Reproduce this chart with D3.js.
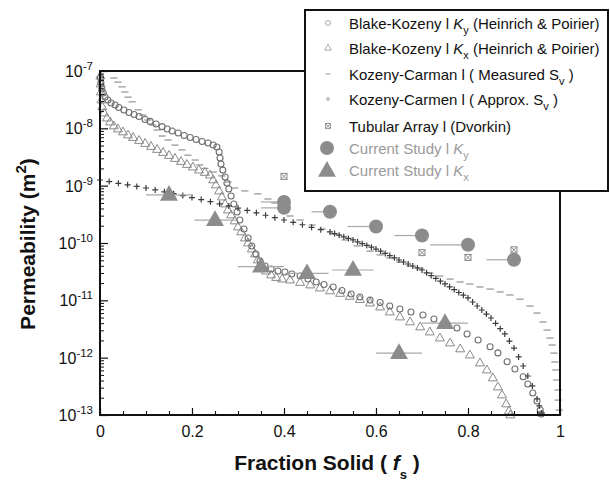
<!DOCTYPE html>
<html>
<head>
<meta charset="utf-8">
<script src="https://cdn.jsdelivr.net/npm/d3@7"></script>
<style>
  body { margin: 0; background: #fff; }
  svg { display: block; }
  text { font-family: "Liberation Sans", Arial, Helvetica, sans-serif; }
</style>
</head>
<body>
<svg id="chart" width="610" height="485"></svg>
<script>
// ---- Blake-Kozeny, K_y (Heinrich & Poirier) ----
const bkyFs = [0.001,0.002,0.004,0.007,0.011,0.017,0.024,0.033,0.041,0.052,0.063,0.074,0.085,0.098,0.109,0.122,0.135,0.146,0.157,0.170,0.183,0.196,0.209,0.222,0.235,0.246,0.254,0.259,0.261,0.263,0.267,0.272,0.276,0.280,0.285,0.291,0.298,0.304,0.313,0.322,0.330,0.339,0.348,0.359,0.372,0.387,0.402,0.417,0.435,0.452,0.470,0.487,0.507,0.526,0.546,0.565,0.587,0.609,0.630,0.652,0.676,0.702,0.726,0.750,0.776,0.798,0.822,0.848,0.865,0.885,0.902,0.920,0.930,0.941,0.950,0.957,0.959];
const bkyK = [7.55e-8,6.18e-8,4.85e-8,4.13e-8,3.52e-8,3.12e-8,2.77e-8,2.55e-8,2.31e-8,2.09e-8,1.89e-8,1.74e-8,1.61e-8,1.43e-8,1.32e-8,1.19e-8,1.07e-8,9.73e-9,8.98e-9,8.29e-9,7.50e-9,6.92e-9,6.38e-9,5.89e-9,5.55e-9,5.12e-9,4.72e-9,3.86e-9,3.03e-9,2.39e-9,1.87e-9,1.42e-9,1.11e-9,8.75e-10,6.6e-10,4.79e-10,3.47e-10,2.52e-10,1.75e-10,1.22e-10,8.87e-11,6.43e-11,4.85e-11,3.97e-11,3.52e-11,3.24e-11,3.12e-11,2.88e-11,2.65e-11,2.35e-11,2.09e-11,1.89e-11,1.71e-11,1.48e-11,1.29e-11,1.14e-11,1.01e-11,9.16e-12,7.96e-12,7.06e-12,6.25e-12,5.55e-12,4.72e-12,4.02e-12,3.29e-12,2.59e-12,2.03e-12,1.55e-12,1.21e-12,8.49e-13,6.34e-13,4.66e-13,3.47e-13,2.42e-13,1.75e-13,1.22e-13,1.04e-13];

// ---- Blake-Kozeny, K_x (Heinrich & Poirier) ----
const bkxFs = [0.0007,0.0013,0.002,0.003,0.005,0.009,0.015,0.022,0.030,0.039,0.050,0.061,0.072,0.085,0.098,0.111,0.124,0.137,0.150,0.163,0.176,0.189,0.202,0.215,0.228,0.239,0.246,0.252,0.259,0.265,0.272,0.278,0.285,0.293,0.300,0.307,0.315,0.322,0.330,0.337,0.343,0.352,0.361,0.372,0.383,0.396,0.413,0.435,0.457,0.478,0.500,0.522,0.543,0.565,0.587,0.609,0.630,0.652,0.674,0.696,0.717,0.739,0.761,0.783,0.804,0.826,0.841,0.854,0.865,0.874,0.883,0.889,0.892];
const bkxK = [8.18e-8,5.93e-8,4.30e-8,3.12e-8,2.36e-8,1.85e-8,1.51e-8,1.29e-8,1.10e-8,9.73e-9,8.63e-9,7.65e-9,6.92e-9,6.14e-9,5.44e-9,4.82e-9,4.28e-9,3.79e-9,3.36e-9,2.98e-9,2.64e-9,2.34e-9,2.11e-9,1.87e-9,1.70e-9,1.53e-9,1.26e-9,1.03e-9,8.07e-10,6.34e-10,4.79e-10,3.76e-10,3.08e-10,2.42e-10,1.90e-10,1.56e-10,1.22e-10,1.00e-10,7.85e-11,6.43e-11,5.05e-11,3.97e-11,3.24e-11,2.77e-11,2.50e-11,2.35e-11,2.26e-11,2.05e-11,1.85e-11,1.64e-11,1.46e-11,1.32e-11,1.17e-11,1.03e-11,8.97e-12,7.64e-12,6.25e-12,5.12e-12,4.19e-12,3.43e-12,2.80e-12,2.20e-12,1.80e-12,1.42e-12,1.11e-12,8.07e-13,6.09e-13,4.42e-13,3.08e-13,2.23e-13,1.56e-13,1.17e-13,1.0e-13];

// ---- Kozeny-Carman with measured S_v ----
const kcMeasFs = [0.030,0.039,0.048,0.054,0.061,0.070,0.083,0.093,0.104,0.115,0.124,0.135,0.148,0.163,0.178,0.191,0.207,0.217,0.228,0.246,0.265,0.278,0.293,0.315,0.343,0.365,0.380,0.398,0.413,0.435,0.461,0.483,0.507,0.533,0.559,0.587,0.609,0.630,0.652,0.674,0.696,0.717,0.739,0.761,0.783,0.804,0.826,0.848,0.870,0.891,0.913,0.935,0.950,0.963,0.972,0.978,0.983,0.987,0.989,0.991,0.993,0.996,0.996,0.998];
const kcMeasK = [7.55e-8,6.4e-8,5.3e-8,4.3e-8,3.5e-8,2.9e-8,2.1e-8,1.7e-8,1.4e-8,1.14e-8,9.35e-9,7.35e-9,6.25e-9,5.1e-9,4.2e-9,3.4e-9,2.8e-9,2.3e-9,2.0e-9,1.73e-9,1.48e-9,1.16e-9,9.1e-10,8.1e-10,7.2e-10,5.85e-10,5.0e-10,3.76e-10,2.96e-10,2.52e-10,2.06e-10,1.75e-10,1.44e-10,1.13e-10,8.9e-11,7.2e-11,6.2e-11,5.5e-11,4.66e-11,3.97e-11,3.52e-11,3.0e-11,2.65e-11,2.35e-11,2.09e-11,1.93e-11,1.71e-11,1.57e-11,1.40e-11,1.24e-11,1.05e-11,7.96e-12,6.0e-12,4.19e-12,3.03e-12,2.2e-12,1.66e-12,1.2e-12,8.4e-13,6.1e-13,4.07e-13,2.73e-13,1.82e-13,1.22e-13];

// ---- Kozeny-Carmen with approximated S_v ----
const kcApproxFs = [0,0.02,0.04,0.06,0.08,0.10,0.12,0.14,0.16,0.18,0.20,0.22,0.24,0.26,0.28,0.30,0.32,0.34,0.36,0.38,0.40,0.42,0.44,0.46,0.48,0.50,
  0.51,0.52,0.53,0.54,0.55,0.56,0.57,0.58,0.59,0.60,0.61,0.62,0.63,0.64,0.65,0.66,0.67,0.68,0.69,0.70,0.71,0.72,0.73,0.74,0.75,0.76,0.77,0.78,0.79,0.80,
  0.81,0.82,0.83,0.84,0.85,0.86,0.87,0.88,0.89,0.90,0.91,0.92,0.93,0.94,0.95,0.955,0.96];
const kcApproxK = [1.256e-9,1.18e-9,1.10e-9,1.035e-9,9.7e-10,9.1e-10,8.43e-10,7.82e-10,7.24e-10,6.71e-10,6.21e-10,5.71e-10,5.25e-10,4.83e-10,4.44e-10,4.07e-10,3.70e-10,3.36e-10,3.05e-10,2.77e-10,2.52e-10,2.29e-10,2.08e-10,1.88e-10,1.71e-10,1.56e-10,
  1.46e-10,1.37e-10,1.28e-10,1.20e-10,1.13e-10,1.05e-10,9.75e-11,9.08e-11,8.45e-11,7.85e-11,7.19e-11,6.58e-11,6.03e-11,5.52e-11,5.05e-11,4.66e-11,4.30e-11,3.97e-11,3.67e-11,3.38e-11,3.02e-11,2.70e-11,2.41e-11,2.16e-11,1.93e-11,1.72e-11,1.54e-11,1.37e-11,1.23e-11,1.10e-11,
  9.35e-12,7.96e-12,6.78e-12,5.77e-12,4.92e-12,3.97e-12,3.20e-12,2.59e-12,1.95e-12,1.47e-12,1.03e-12,7.15e-13,4.79e-13,3.21e-13,1.90e-13,1.44e-13,1.08e-13];

// ---- Tubular array (Dvorkin) ----
const tubeFs = [0.4, 0.7, 0.8, 0.9];
const tubeK = [1.45e-9, 6.8e-11, 5.6e-11, 7.6e-11];

// ---- Current study: K_y (error bar extends to lower f_s only) ----
const studyKyFs = [0.4, 0.4, 0.5, 0.6, 0.7, 0.8, 0.9];
const studyKyK = [5.2e-10, 4.1e-10, 3.5e-10, 1.94e-10, 1.35e-10, 9.3e-11, 5.1e-11];
const studyKyErr = [0.05, 0.05, 0.04, 0.062, 0.06, 0.082, 0.06];

// ---- Current study: K_x (symmetric error bars) ----
const studyKxFs = [0.15, 0.25, 0.35, 0.45, 0.55, 0.65, 0.75];
const studyKxK = [6.9e-10, 2.5e-10, 3.86e-11, 2.96e-11, 3.38e-11, 1.2e-12, 4.0e-12];
const studyKxErr = [0.05, 0.045, 0.05, 0.047, 0.045, 0.05, 0.05];

// ---- Axis ticks ----
const xTicks = [0, 0.2, 0.4, 0.6, 0.8, 1];
const xTickLabels = ["0", "0.2", "0.4", "0.6", "0.8", "1"];
const yTicks = [1e-13, 1e-12, 1e-11, 1e-10, 1e-9, 1e-8, 1e-7];
const yTickExponents = ["-13", "-12", "-11", "-10", "-9", "-8", "-7"];

// ---- Legend entries ----
const legendLabels = [
  ["Blake-Kozeny l ", ["K", "y"], " (Heinrich & Poirier)"],
  ["Blake-Kozeny l ", ["K", "x"], " (Heinrich & Poirier)"],
  ["Kozeny-Carman l ( Measured S", ["", "v"], " )"],
  ["Kozeny-Carmen l ( Approx. S", ["", "v"], " )"],
  ["Tubular Array l (Dvorkin)", null, ""],
  ["Current Study l ", ["K", "y"], ""],
  ["Current Study l ", ["K", "x"], ""]
];

// ================= drawing =================
const svg = d3.select("#chart");
const X0 = 100, X1 = 560, Y0 = 415, Y1 = 71;
const x = d3.scaleLinear().domain([0, 1]).range([X0, X1]);
const y = d3.scaleLog().domain([1e-13, 1e-7]).range([Y0, Y1]);

const zip = (a, b) => d3.range(Math.min(a.length, b.length)).map(i => [a[i], b[i]]);

// marker shapes
const plusPath = "M-3,0H3M0,-3V3";
const dashPath = "M-3.6,0H3.6";
const triPath = s => `M0,${-s * 0.62}L${s * 0.56},${s * 0.36}L${-s * 0.56},${s * 0.36}Z`;

const plot = svg.append("g");

// Kozeny-Carman, measured S_v : short dashes
plot.append("g").selectAll("path").data(zip(kcMeasFs, kcMeasK)).join("path")
  .attr("transform", d => `translate(${x(d[0])},${y(d[1])})`)
  .attr("d", dashPath).attr("stroke", "#9a9a9a").attr("stroke-width", 1.3).attr("fill", "none");

// Blake-Kozeny K_x : open triangles
plot.append("g").selectAll("path").data(zip(bkxFs, bkxK)).join("path")
  .attr("transform", d => `translate(${x(d[0])},${y(d[1])})`)
  .attr("d", triPath(8)).attr("stroke", "#8a8a8a").attr("stroke-width", 1).attr("fill", "none");

// Blake-Kozeny K_y : open circles
plot.append("g").selectAll("circle").data(zip(bkyFs, bkyK)).join("circle")
  .attr("cx", d => x(d[0])).attr("cy", d => y(d[1])).attr("r", 3)
  .attr("stroke", "#707070").attr("stroke-width", 1.1).attr("fill", "none");

// Kozeny-Carmen, approximated S_v : plus signs
plot.append("g").selectAll("path").data(zip(kcApproxFs, kcApproxK)).join("path")
  .attr("transform", d => `translate(${x(d[0])},${y(d[1])})`)
  .attr("d", plusPath).attr("stroke", "#3c3c3c").attr("stroke-width", 1.2).attr("fill", "none");

// Tubular array : boxed crosses
const boxX = g => {
  g.append("rect").attr("x", -3).attr("y", -3).attr("width", 6).attr("height", 6)
    .attr("fill", "none").attr("stroke", "#8a8a8a").attr("stroke-width", 1);
  g.append("path").attr("d", "M-3,-3L3,3M3,-3L-3,3").attr("stroke", "#8a8a8a").attr("stroke-width", 1);
};
plot.append("g").selectAll("g").data(zip(tubeFs, tubeK)).join("g")
  .attr("transform", d => `translate(${x(d[0])},${y(d[1])})`)
  .each(function () { boxX(d3.select(this)); });

// Current study error bars
const studyGray = "#8c8c8c";
const barGray = "#a8a8a8";
const kyRows = d3.range(studyKyFs.length).map(i => ({ f: studyKyFs[i], k: studyKyK[i], e: studyKyErr[i] }));
const kxRows = d3.range(studyKxFs.length).map(i => ({ f: studyKxFs[i], k: studyKxK[i], e: studyKxErr[i] }));

plot.append("g").selectAll("line").data(kyRows).join("line")
  .attr("x1", d => x(d.f - d.e)).attr("x2", d => x(d.f))
  .attr("y1", d => y(d.k)).attr("y2", d => y(d.k))
  .attr("stroke", barGray).attr("stroke-width", 1.2);
plot.append("g").selectAll("line").data(kxRows).join("line")
  .attr("x1", d => x(d.f - d.e)).attr("x2", d => x(d.f + d.e))
  .attr("y1", d => y(d.k)).attr("y2", d => y(d.k))
  .attr("stroke", barGray).attr("stroke-width", 1.2);

// Current study markers
plot.append("g").selectAll("circle").data(kyRows).join("circle")
  .attr("cx", d => x(d.f)).attr("cy", d => y(d.k)).attr("r", 7)
  .attr("fill", studyGray);
plot.append("g").selectAll("path").data(kxRows).join("path")
  .attr("transform", d => `translate(${x(d.f)},${y(d.k)})`)
  .attr("d", triPath(16)).attr("fill", studyGray);

// ---- axes ----
const xAxis = d3.axisBottom(x).tickValues(xTicks).tickSizeInner(-7).tickSizeOuter(0).tickPadding(11)
  .tickFormat((d, i) => xTickLabels[i]);
const gx = svg.append("g").attr("transform", `translate(0,${Y0})`).call(xAxis);
gx.select(".domain").remove();
gx.selectAll(".tick line").attr("stroke", "#111").attr("stroke-width", 1.2);
gx.selectAll(".tick text").attr("font-size", 16).attr("fill", "#111")
  .attr("font-family", '"Liberation Sans", Arial, sans-serif');

const xMinor = d3.range(0.05, 1, 0.05).filter(v => Math.abs(v * 5 - Math.round(v * 5)) > 1e-6);
const gxm = svg.append("g").attr("transform", `translate(0,${Y0})`)
  .call(d3.axisBottom(x).tickValues(xMinor).tickSizeInner(-4).tickSizeOuter(0).tickFormat(""));
gxm.select(".domain").remove();
gxm.selectAll(".tick line").attr("stroke", "#111").attr("stroke-width", 1.1);

const gy = svg.append("g").attr("transform", `translate(${X0},0)`)
  .call(d3.axisLeft(y).tickValues(yTicks).tickSizeInner(-8).tickSizeOuter(0).tickFormat(""));
gy.select(".domain").remove();
gy.selectAll(".tick line").attr("stroke", "#111").attr("stroke-width", 1.2);

const yMinor = [];
yTicks.slice(0, -1).forEach(base => { for (let m = 2; m <= 9; m++) yMinor.push(base * m); });
const gym = svg.append("g").attr("transform", `translate(${X0},0)`)
  .call(d3.axisLeft(y).tickValues(yMinor).tickSizeInner(-4).tickSizeOuter(0).tickFormat(""));
gym.select(".domain").remove();
gym.selectAll(".tick line").attr("stroke", "#111").attr("stroke-width", 1);

// power-of-ten labels
const yl = svg.append("g").selectAll("text").data(yTicks).join("text")
  .attr("x", 93).attr("y", d => y(d) + 6)
  .attr("text-anchor", "end").attr("font-size", 16).attr("fill", "#111");
yl.append("tspan").text("10");
yl.append("tspan").attr("dy", -7).attr("font-size", 11.5).text((d, i) => yTickExponents[i]);

// frame
svg.append("rect").attr("x", X0).attr("y", Y1).attr("width", X1 - X0).attr("height", Y0 - Y1)
  .attr("fill", "none").attr("stroke", "#111").attr("stroke-width", 2);

// axis titles
const xt = svg.append("text").attr("x", 327).attr("y", 470).attr("text-anchor", "middle")
  .attr("font-size", 21).attr("font-weight", "bold").attr("fill", "#111");
xt.append("tspan").text("Fraction Solid ( ");
xt.append("tspan").attr("font-style", "italic").text("f");
xt.append("tspan").attr("dy", 9).attr("font-size", 13).text("s");
xt.append("tspan").attr("dy", -9).text(" )");

const yt = svg.append("text").attr("transform", "translate(35,244) rotate(-90)").attr("text-anchor", "middle")
  .attr("font-size", 21).attr("font-weight", "bold").attr("fill", "#111");
yt.append("tspan").text("Permeability (m");
yt.append("tspan").attr("dy", -9).attr("font-size", 15).text("2");
yt.append("tspan").attr("dy", 9).text(")");

// ---- legend ----
const lg = svg.append("g");
lg.append("rect").attr("x", 305).attr("y", 10).attr("width", 303).attr("height", 181)
  .attr("fill", "#fff").attr("stroke", "#111").attr("stroke-width", 2);

const rowY = [23, 48, 74, 99, 126, 148, 170];
const symX = 328;
lg.append("circle").attr("cx", symX).attr("cy", rowY[0]).attr("r", 2.5)
  .attr("fill", "none").attr("stroke", "#aaa").attr("stroke-width", 1);
lg.append("path").attr("transform", `translate(${symX},${rowY[1]})`).attr("d", triPath(6))
  .attr("fill", "none").attr("stroke", "#aaa").attr("stroke-width", 1);
lg.append("path").attr("transform", `translate(${symX},${rowY[2]})`).attr("d", "M-2.5,0H2.5")
  .attr("stroke", "#aaa").attr("stroke-width", 1.2);
lg.append("path").attr("transform", `translate(${symX},${rowY[3]})`).attr("d", "M-2.5,0H2.5M0,-2.5V2.5")
  .attr("stroke", "#aaa").attr("stroke-width", 1.1);
boxX(lg.append("g").attr("transform", `translate(${symX},${rowY[4]}) scale(0.85)`));
lg.append("circle").attr("cx", 327).attr("cy", rowY[5]).attr("r", 7).attr("fill", studyGray);
lg.append("path").attr("transform", `translate(327,${rowY[6] + 1})`).attr("d", triPath(16)).attr("fill", studyGray);

legendLabels.forEach((lab, i) => {
  const t = lg.append("text").attr("x", 349).attr("y", rowY[i] + 5.5)
    .attr("font-size", 15).attr("fill", i >= 5 ? "#9a9a9a" : "#111");
  t.append("tspan").text(lab[0]);
  if (lab[1]) {
    if (lab[1][0]) t.append("tspan").attr("font-style", "italic").text(lab[1][0]);
    t.append("tspan").attr("dy", 5).attr("font-size", 11).text(lab[1][1]);
    t.append("tspan").attr("dy", -5).text(lab[2]);
  }
});
</script>
</body>
</html>
